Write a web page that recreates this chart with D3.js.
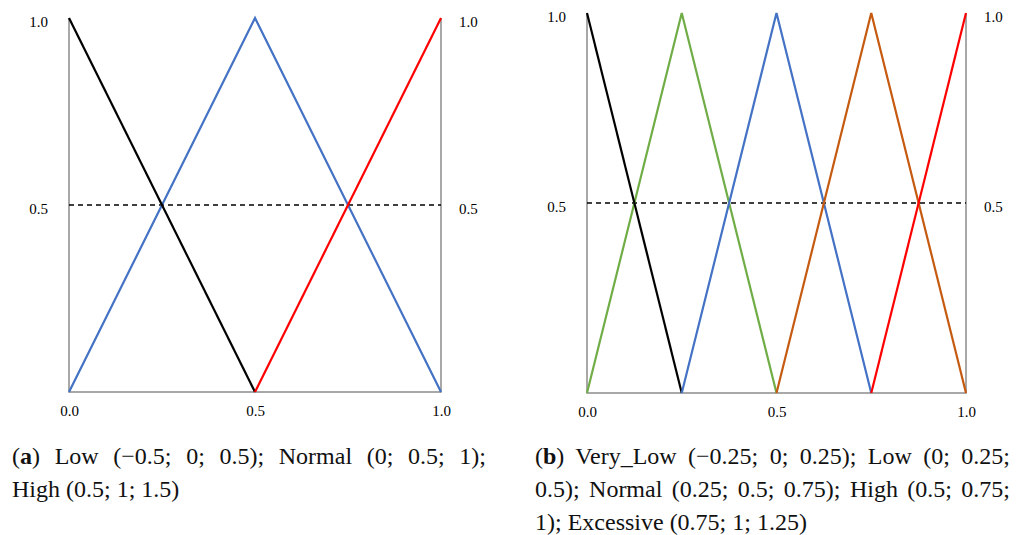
<!DOCTYPE html>
<html>
<head>
<meta charset="utf-8">
<script src="https://cdn.jsdelivr.net/npm/d3@7"></script>
<style>
  html, body { margin: 0; padding: 0; background: #fff; }
  svg { display: block; }
  text { font-family: "Liberation Serif", "DejaVu Serif", serif; }
</style>
</head>
<body>
<svg id="chart" width="1022" height="535"></svg>
<script>
// tick labels
var xTicks = [0, 0.5, 1.0];
var yTicks = [0.5, 1.0];

// panel (a) series: membership functions
var lowA = [[0, 1], [0.5, 0]];
var normalA = [[0, 0], [0.5, 1], [1, 0]];
var highA = [[0.5, 0], [1, 1]];

// panel (b) series
var veryLowB = [[0, 1], [0.25, 0]];
var lowB = [[0, 0], [0.25, 1], [0.5, 0]];
var normalB = [[0.25, 0], [0.5, 1], [0.75, 0]];
var highB = [[0.5, 0], [0.75, 1], [1, 0]];
var excessiveB = [[0.75, 0], [1, 1]];

var cutLevel = 0.5;

var captionA = [
  [{t: "(", b: false}, {t: "a", b: true}, {t: ") Low (\u22120.5; 0; 0.5); Normal (0; 0.5; 1);", b: false}],
  [{t: "High (0.5; 1; 1.5)", b: false}]
];
var captionB = [
  [{t: "(", b: false}, {t: "b", b: true}, {t: ") Very_Low (\u22120.25; 0; 0.25); Low (0; 0.25;", b: false}],
  [{t: "0.5); Normal (0.25; 0.5; 0.75); High (0.5; 0.75;", b: false}],
  [{t: "1); Excessive (0.75; 1; 1.25)", b: false}]
];

var svg = d3.select("#chart");

var panels = [
  {
    left: 69, right: 441, top: 18, bottom: 392,
    series: [
      {data: normalA, color: "#4472C4"},
      {data: lowA, color: "#000000"},
      {data: highA, color: "#FF0000"}
    ],
    caption: captionA, capX: 12, capRight: 486, capY: 464
  },
  {
    left: 587, right: 966, top: 13, bottom: 393,
    series: [
      {data: lowB, color: "#70AD47"},
      {data: veryLowB, color: "#000000"},
      {data: normalB, color: "#4472C4"},
      {data: highB, color: "#C55A11"},
      {data: excessiveB, color: "#FF0000"}
    ],
    caption: captionB, capX: 535, capRight: 1010, capY: 464
  }
];

var drawPanel = function(p) {
  var x = d3.scaleLinear().domain([0, 1]).range([p.left, p.right]);
  var y = d3.scaleLinear().domain([0, 1]).range([p.bottom, p.top]);
  var g = svg.append("g");

  // frame: left, right and bottom lines
  g.append("path")
    .attr("d", "M" + x(0) + "," + y(1) + "V" + y(0) + "H" + x(1) + "V" + y(1))
    .attr("fill", "none")
    .attr("stroke", "#8c8c8c")
    .attr("stroke-width", 1.5);

  // dashed 0.5 line
  g.append("line")
    .attr("x1", x(0)).attr("x2", x(1))
    .attr("y1", y(cutLevel)).attr("y2", y(cutLevel))
    .attr("stroke", "#000")
    .attr("stroke-width", 1.5)
    .attr("stroke-dasharray", "5,4");

  var line = d3.line().x(function(d) { return x(d[0]); }).y(function(d) { return y(d[1]); });
  p.series.forEach(function(s) {
    g.append("path")
      .attr("d", line(s.data))
      .attr("fill", "none")
      .attr("stroke", s.color)
      .attr("stroke-width", 2.2);
  });

  var fmt = d3.format(".1f");
  var style = function(sel) {
    sel.select(".domain").remove();
    sel.selectAll(".tick line").remove();
    sel.attr("font-family", null).attr("font-size", null);
    sel.selectAll("text")
      .style("font-family", "'Liberation Serif', 'DejaVu Serif', serif")
      .style("font-size", "15px")
      .attr("fill", "#000");
  };

  g.append("g")
    .attr("transform", "translate(" + x(0) + ",4)")
    .call(d3.axisLeft(y).tickValues(yTicks).tickFormat(fmt).tickSize(0).tickPadding(21))
    .call(style);

  g.append("g")
    .attr("transform", "translate(" + x(1) + ",4)")
    .call(d3.axisRight(y).tickValues(yTicks).tickFormat(fmt).tickSize(0).tickPadding(18))
    .call(style);

  g.append("g")
    .attr("transform", "translate(0," + (y(0) + 10) + ")")
    .call(d3.axisBottom(x).tickValues(xTicks).tickFormat(fmt).tickSize(0))
    .call(style);

  // caption, justified lines except the last
  var lineH = 33;
  p.caption.forEach(function(parts, i) {
    var t = svg.append("text")
      .attr("x", p.capX)
      .attr("y", p.capY + i * lineH)
      .style("font-family", "'Liberation Serif', 'DejaVu Serif', serif")
      .style("font-size", "24px")
      .attr("fill", "#111")
      .attr("xml:space", "preserve");
    parts.forEach(function(part) {
      t.append("tspan").attr("font-weight", part.b ? "bold" : "normal").text(part.t);
    });
    if (i < p.caption.length - 1) {
      var w = t.node().getComputedTextLength();
      var full = parts.map(function(q) { return q.t; }).join("");
      var gaps = full.split(" ").length - 1;
      if (gaps > 0) {
        t.style("word-spacing", ((p.capRight - p.capX - w) / gaps) + "px");
      }
    }
  });
};

panels.forEach(drawPanel);
</script>
</body>
</html>
